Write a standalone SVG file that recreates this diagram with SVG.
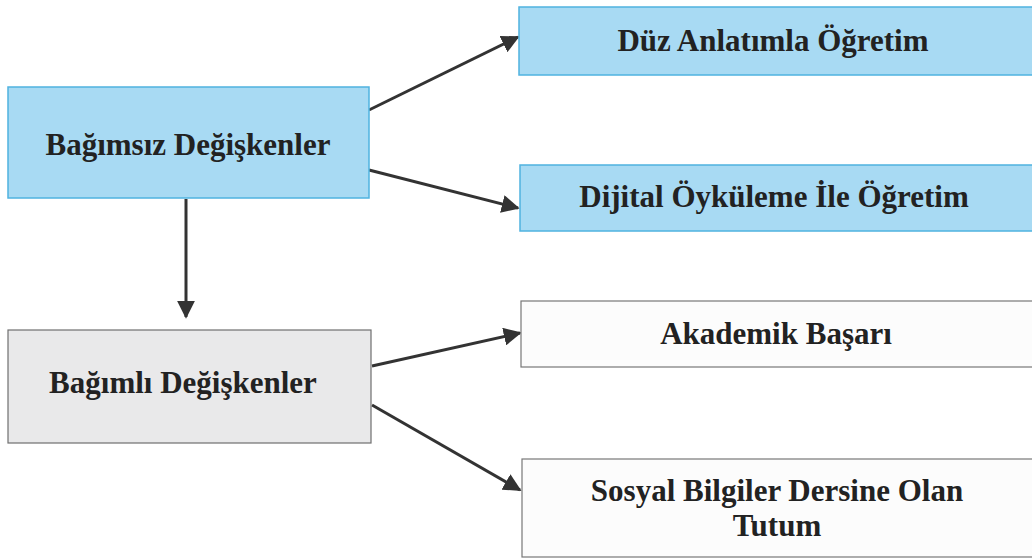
<svg xmlns="http://www.w3.org/2000/svg" width="1032" height="559" viewBox="0 0 1032 559">
<defs>
<style>
.t{font-family:"Liberation Serif","Times New Roman",serif;font-weight:bold;font-size:31px;fill:#222;text-anchor:middle}
.blue{fill:#a8daf3;stroke:#4fb3e0;stroke-width:1.5}
.gray{fill:#e9e9ea;stroke:#6f6f6f;stroke-width:1.2}
.white{fill:#fcfcfc;stroke:#777;stroke-width:1.2}
.c{stroke:#333;stroke-width:3;fill:none;marker-end:url(#ah)}
</style>
<marker id="ah" viewBox="0 0 10 10" refX="9" refY="5" markerWidth="6" markerHeight="6" orient="auto" markerUnits="strokeWidth">
<path d="M0,0 L10,5 L0,10 z" fill="#333"/>
</marker>
</defs>
<rect width="1032" height="559" fill="#fff"/>
<g id="connectors">
<line class="c" x1="186" y1="199" x2="186" y2="317"/>
<line class="c" x1="369" y1="110" x2="518" y2="37"/>
<line class="c" x1="369" y1="170" x2="518" y2="208"/>
<line class="c" x1="372" y1="366" x2="520" y2="333"/>
<line class="c" x1="372" y1="405" x2="520" y2="490"/>
</g>
<g id="n1"><rect class="blue" x="8" y="87" width="361" height="111"/><text class="t" x="188" y="155">Bağımsız Değişkenler</text></g>
<g id="n2"><rect class="blue" x="519" y="7" width="520" height="68"/><text class="t" x="773" y="51">Düz Anlatımla Öğretim</text></g>
<g id="n3"><rect class="blue" x="520" y="165" width="520" height="66"/><text class="t" x="774" y="207">Dijital Öyküleme İle Öğretim</text></g>
<g id="n4"><rect class="gray" x="8" y="330" width="363" height="113"/><text class="t" x="183" y="393">Bağımlı Değişkenler</text></g>
<g id="n5"><rect class="white" x="521" y="301" width="520" height="66"/><text class="t" x="776" y="344">Akademik Başarı</text></g>
<g id="n6"><rect class="white" x="522" y="459" width="520" height="98"/><text class="t" x="777" y="501">Sosyal Bilgiler Dersine Olan</text><text class="t" x="777" y="536">Tutum</text></g>
</svg>
